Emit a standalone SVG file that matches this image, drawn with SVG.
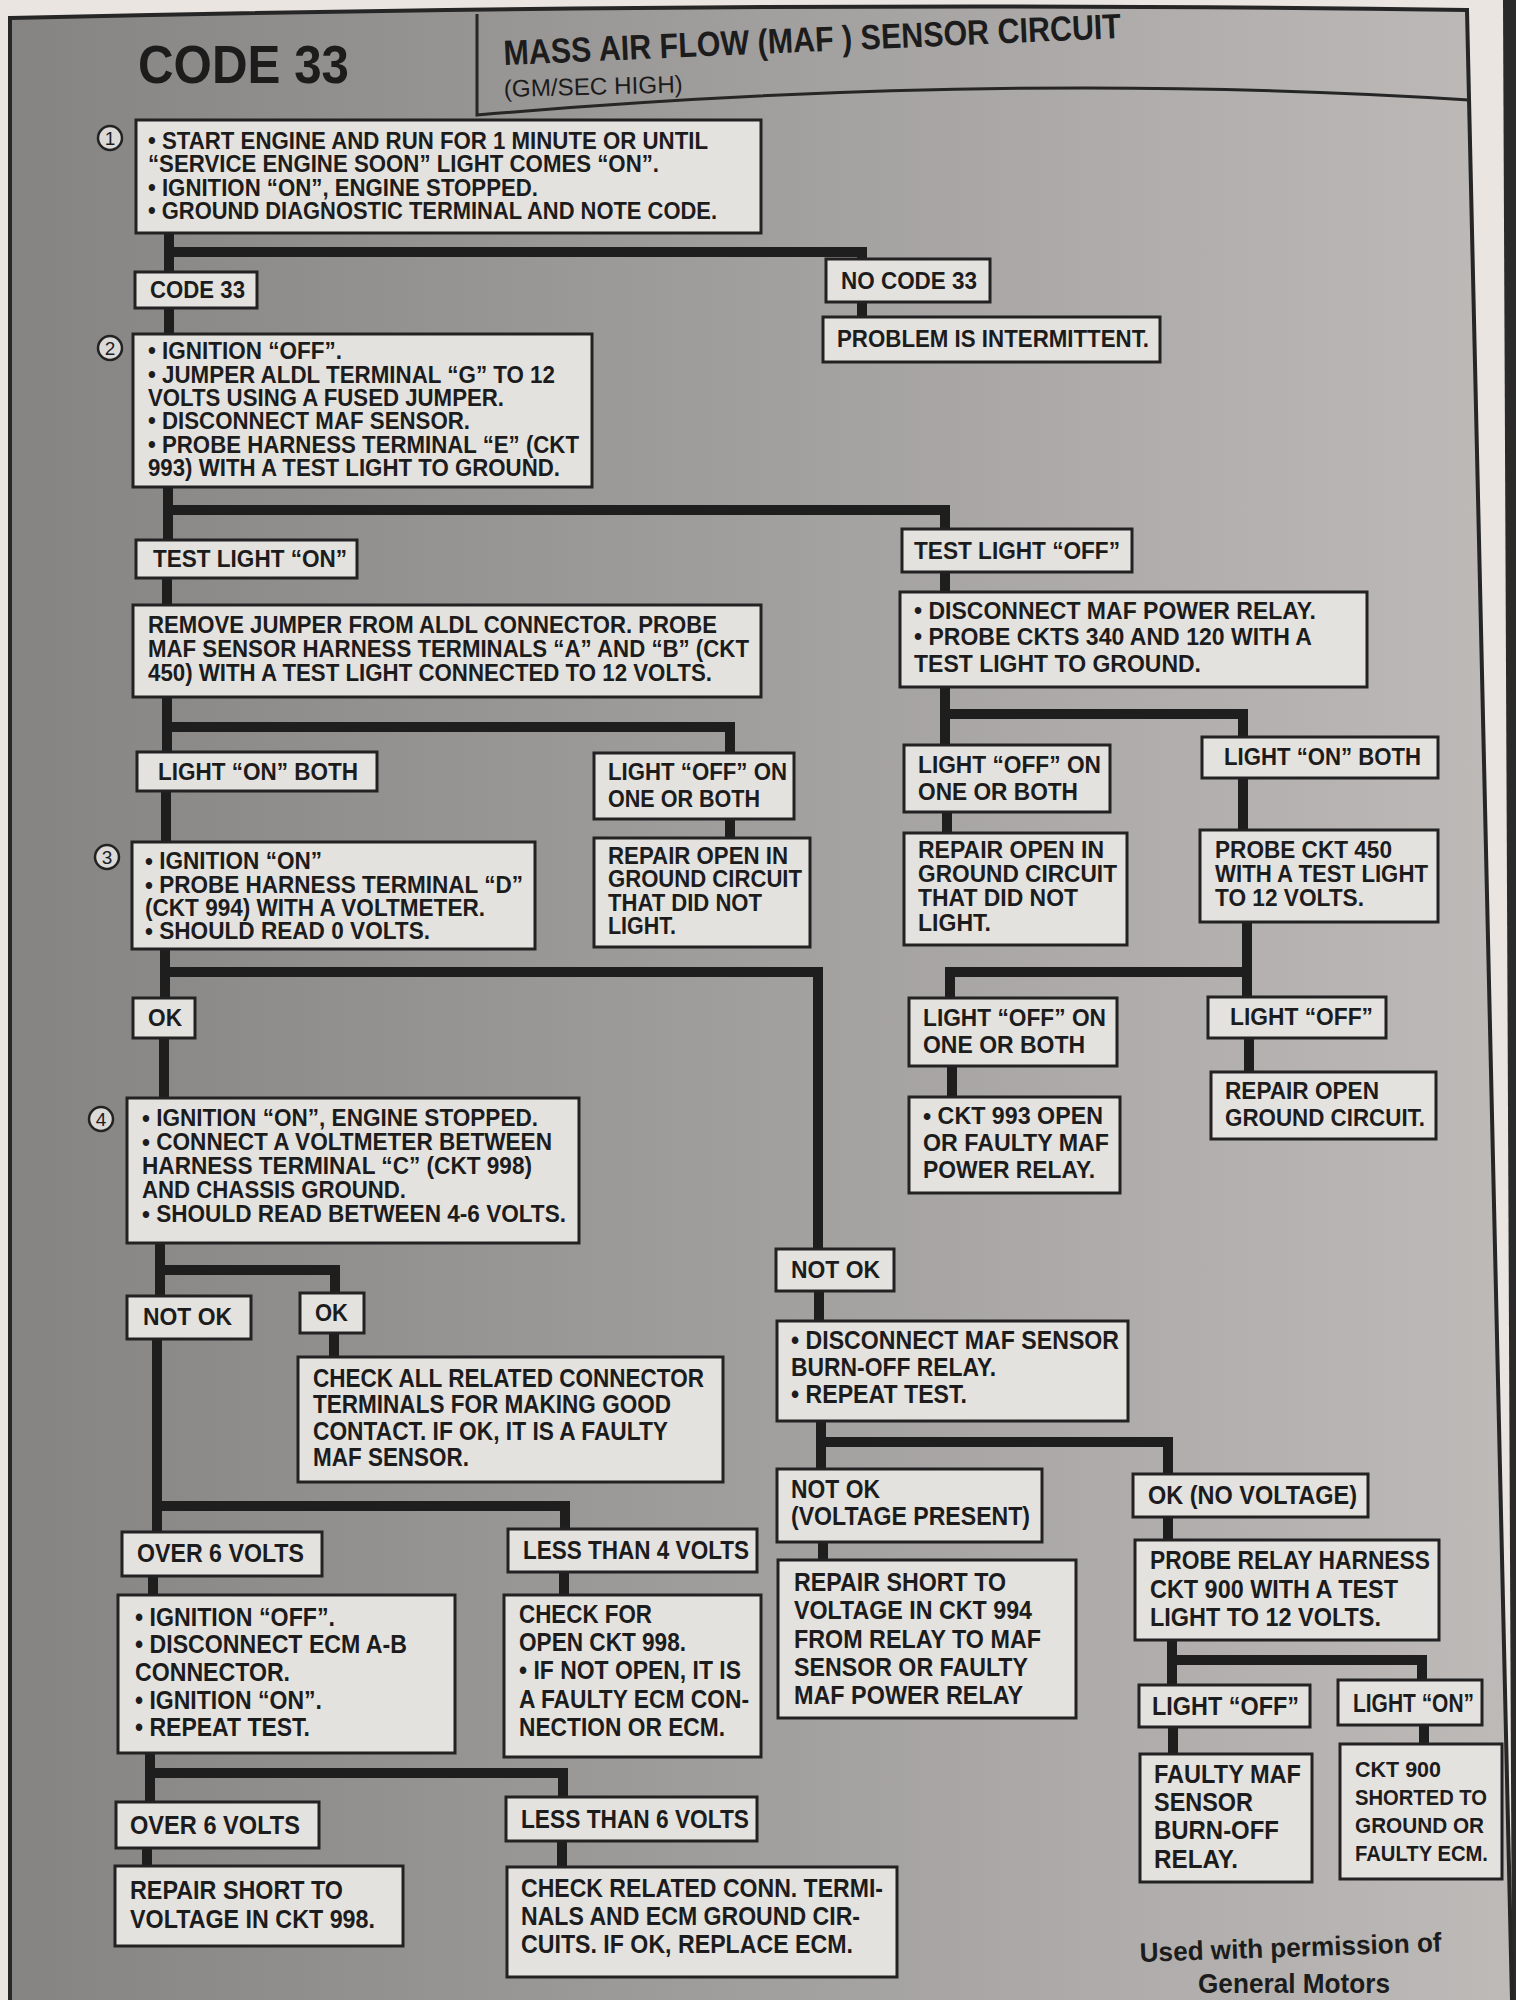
<svg xmlns="http://www.w3.org/2000/svg" width="1516" height="2000" viewBox="0 0 1516 2000">
<defs>
<linearGradient id="bg" x1="0" y1="0" x2="1" y2="0">
<stop offset="0" stop-color="#868483"/>
<stop offset="0.55" stop-color="#a4a2a1"/>
<stop offset="1" stop-color="#bdbab8"/>
</linearGradient>
<style>
.box{fill:#e4e2df;stroke:#222;stroke-width:3}
.t{font-family:"Liberation Sans",Arial,sans-serif;font-weight:bold;fill:#1c1c1c}
.c{fill:none;stroke:#1e1e1e;stroke-width:10;stroke-linejoin:miter;stroke-linecap:butt}
.num{fill:#dcdad8;stroke:#222;stroke-width:2.5}
.nt{font-family:"Liberation Sans",Arial,sans-serif;font-size:19px;fill:#1c1c1c;text-anchor:middle}
.frame{fill:none;stroke:#262626;stroke-width:4}
</style>
</defs>
<rect x="0" y="0" width="1516" height="2000" fill="#ebe5e2"/>
<polygon points="1503,0 1516,0 1516,2000 1512,2000" fill="#2a2a2a"/>
<path d="M10,18 Q800,0 1467,10 L1512,2000 L10,2000 Z" fill="url(#bg)"/>
<path class="frame" d="M10,2000 V18 Q800,0 1467,10 L1512,2000"/>

<g id="header">
<text class="t" x="138" y="83" font-size="54" textLength="211" lengthAdjust="spacingAndGlyphs">CODE 33</text>
<path d="M477,14 V115 Q1000,70 1469,100" fill="none" stroke="#262626" stroke-width="3"/>
<text class="t" x="504" y="65" font-size="35" textLength="618" lengthAdjust="spacingAndGlyphs" transform="rotate(-2.5 504 65)">MASS AIR FLOW (MAF ) SENSOR CIRCUIT</text>
<text x="504" y="97" font-size="24" font-family="Liberation Sans,Arial,sans-serif" fill="#1c1c1c" textLength="179" lengthAdjust="spacingAndGlyphs" transform="rotate(-1.5 504 97)">(GM/SEC HIGH)</text>
</g>

<g id="connectors">
<path class="c" d="M169,233 V272 M169,252 H862 V259"/>
<path class="c" d="M862,302 V318"/>
<path class="c" d="M169,308 V334"/>
<path class="c" d="M168,487 V540 M168,510 H945 V530"/>
<path class="c" d="M167,578 V605"/>
<path class="c" d="M945,572 V592"/>
<path class="c" d="M167,697 V752 M167,727 H730 V753"/>
<path class="c" d="M945,687 V745 M945,714 H1243 V737"/>
<path class="c" d="M730,819 V838"/>
<path class="c" d="M166,791 V842"/>
<path class="c" d="M947,812 V833"/>
<path class="c" d="M1243,778 V830"/>
<path class="c" d="M1247,922 V997 M1247,972 H950 V998"/>
<path class="c" d="M1249,1038 V1072"/>
<path class="c" d="M952,1066 V1097"/>
<path class="c" d="M165,949 V998 M165,972 H818 V1249"/>
<path class="c" d="M164,1038 V1098"/>
<path class="c" d="M160,1243 V1296 M160,1270 H335 V1293"/>
<path class="c" d="M334,1333 V1357"/>
<path class="c" d="M157,1339 V1532 M157,1506 H565 V1529"/>
<path class="c" d="M153,1576 V1595"/>
<path class="c" d="M564,1572 V1595"/>
<path class="c" d="M150,1753 V1802 M150,1773 H563 V1797"/>
<path class="c" d="M147,1848 V1866"/>
<path class="c" d="M562,1841 V1867"/>
<path class="c" d="M819,1291 V1321"/>
<path class="c" d="M821,1421 V1469 M821,1442 H1168 V1474"/>
<path class="c" d="M823,1542 V1560"/>
<path class="c" d="M1168,1517 V1540"/>
<path class="c" d="M1172,1640 V1685 M1172,1660 H1422 V1680"/>
<path class="c" d="M1173,1727 V1754"/>
<path class="c" d="M1424,1725 V1744"/>
</g>

<g id="n1">
<circle class="num" cx="110" cy="138" r="12"/><text class="nt" x="110" y="145">1</text>
<rect class="box" x="136" y="120" width="625" height="113"/>
<g class="t" font-size="23">
<text x="148" y="149" textLength="560" lengthAdjust="spacingAndGlyphs">• START ENGINE AND RUN FOR 1 MINUTE OR UNTIL</text>
<text x="148" y="172" textLength="511" lengthAdjust="spacingAndGlyphs">“SERVICE ENGINE SOON” LIGHT COMES “ON”.</text>
<text x="148" y="196" textLength="390" lengthAdjust="spacingAndGlyphs">• IGNITION “ON”, ENGINE STOPPED.</text>
<text x="148" y="219" textLength="569" lengthAdjust="spacingAndGlyphs">• GROUND DIAGNOSTIC TERMINAL AND NOTE CODE.</text>
</g>
</g>

<g id="n-code33">
<rect class="box" x="135" y="272" width="122" height="36"/>
<text class="t" font-size="23" x="150" y="298" textLength="95" lengthAdjust="spacingAndGlyphs">CODE 33</text>
</g>
<g id="n-nocode33">
<rect class="box" x="826" y="259" width="164" height="43"/>
<text class="t" font-size="23" x="841" y="289" textLength="136" lengthAdjust="spacingAndGlyphs">NO CODE 33</text>
</g>
<g id="n-intermittent">
<rect class="box" x="823" y="317" width="337" height="45"/>
<text class="t" font-size="23" x="837" y="347" textLength="312" lengthAdjust="spacingAndGlyphs">PROBLEM IS INTERMITTENT.</text>
</g>

<g id="n2">
<circle class="num" cx="110" cy="348" r="12"/><text class="nt" x="110" y="355">2</text>
<rect class="box" x="133" y="334" width="459" height="153"/>
<g class="t" font-size="23">
<text x="148" y="359" textLength="194" lengthAdjust="spacingAndGlyphs">• IGNITION “OFF”.</text>
<text x="148" y="383" textLength="407" lengthAdjust="spacingAndGlyphs">• JUMPER ALDL TERMINAL “G” TO 12</text>
<text x="148" y="406" textLength="356" lengthAdjust="spacingAndGlyphs">VOLTS USING A FUSED JUMPER.</text>
<text x="148" y="429" textLength="322" lengthAdjust="spacingAndGlyphs">• DISCONNECT MAF SENSOR.</text>
<text x="148" y="453" textLength="431" lengthAdjust="spacingAndGlyphs">• PROBE HARNESS TERMINAL “E” (CKT</text>
<text x="148" y="476" textLength="412" lengthAdjust="spacingAndGlyphs">993) WITH A TEST LIGHT TO GROUND.</text>
</g>
</g>

<g id="n-testlight-on">
<rect class="box" x="136" y="540" width="221" height="38"/>
<text class="t" font-size="23" x="153" y="567" textLength="194" lengthAdjust="spacingAndGlyphs">TEST LIGHT “ON”</text>
</g>
<g id="n-testlight-off">
<rect class="box" x="902" y="529" width="230" height="43"/>
<text class="t" font-size="23" x="914" y="559" textLength="206" lengthAdjust="spacingAndGlyphs">TEST LIGHT “OFF”</text>
</g>

<g id="n-remove-jumper">
<rect class="box" x="133" y="605" width="628" height="92"/>
<g class="t" font-size="23">
<text x="148" y="633" textLength="569" lengthAdjust="spacingAndGlyphs">REMOVE JUMPER FROM ALDL CONNECTOR. PROBE</text>
<text x="148" y="657" textLength="601" lengthAdjust="spacingAndGlyphs">MAF SENSOR HARNESS TERMINALS “A” AND “B” (CKT</text>
<text x="148" y="681" textLength="564" lengthAdjust="spacingAndGlyphs">450) WITH A TEST LIGHT CONNECTED TO 12 VOLTS.</text>
</g>
</g>

<g id="n-disconnect-relay">
<rect class="box" x="900" y="592" width="467" height="95"/>
<g class="t" font-size="23">
<text x="914" y="619" textLength="402" lengthAdjust="spacingAndGlyphs">• DISCONNECT MAF POWER RELAY.</text>
<text x="914" y="645" textLength="398" lengthAdjust="spacingAndGlyphs">• PROBE CKTS 340 AND 120 WITH A</text>
<text x="914" y="672" textLength="287" lengthAdjust="spacingAndGlyphs">TEST LIGHT TO GROUND.</text>
</g>
</g>

<g id="n-light-on-both-l">
<rect class="box" x="137" y="752" width="240" height="39"/>
<text class="t" font-size="23" x="158" y="780" textLength="200" lengthAdjust="spacingAndGlyphs">LIGHT “ON” BOTH</text>
</g>
<g id="n-light-off-l">
<rect class="box" x="594" y="753" width="200" height="66"/>
<g class="t" font-size="23">
<text x="608" y="780" textLength="179" lengthAdjust="spacingAndGlyphs">LIGHT “OFF” ON</text>
<text x="608" y="807" textLength="152" lengthAdjust="spacingAndGlyphs">ONE OR BOTH</text>
</g>
</g>
<g id="n-light-off-r">
<rect class="box" x="904" y="745" width="206" height="67"/>
<g class="t" font-size="23">
<text x="918" y="773" textLength="183" lengthAdjust="spacingAndGlyphs">LIGHT “OFF” ON</text>
<text x="918" y="800" textLength="160" lengthAdjust="spacingAndGlyphs">ONE OR BOTH</text>
</g>
</g>
<g id="n-light-on-both-r">
<rect class="box" x="1202" y="737" width="236" height="41"/>
<text class="t" font-size="23" x="1224" y="765" textLength="197" lengthAdjust="spacingAndGlyphs">LIGHT “ON” BOTH</text>
</g>

<g id="n3">
<circle class="num" cx="107" cy="857" r="12"/><text class="nt" x="107" y="864">3</text>
<rect class="box" x="132" y="842" width="403" height="107"/>
<g class="t" font-size="24">
<text x="145" y="869" textLength="177" lengthAdjust="spacingAndGlyphs">• IGNITION “ON”</text>
<text x="145" y="893" textLength="378" lengthAdjust="spacingAndGlyphs">• PROBE HARNESS TERMINAL “D”</text>
<text x="145" y="916" textLength="340" lengthAdjust="spacingAndGlyphs">(CKT 994) WITH A VOLTMETER.</text>
<text x="145" y="939" textLength="285" lengthAdjust="spacingAndGlyphs">• SHOULD READ 0 VOLTS.</text>
</g>
</g>

<g id="n-repair-open-l">
<rect class="box" x="594" y="838" width="216" height="109"/>
<g class="t" font-size="24">
<text x="608" y="864" textLength="180" lengthAdjust="spacingAndGlyphs">REPAIR OPEN IN</text>
<text x="608" y="887" textLength="194" lengthAdjust="spacingAndGlyphs">GROUND CIRCUIT</text>
<text x="608" y="911" textLength="154" lengthAdjust="spacingAndGlyphs">THAT DID NOT</text>
<text x="608" y="934" textLength="68" lengthAdjust="spacingAndGlyphs">LIGHT.</text>
</g>
</g>
<g id="n-repair-open-r">
<rect class="box" x="904" y="833" width="223" height="112"/>
<g class="t" font-size="24">
<text x="918" y="858" textLength="186" lengthAdjust="spacingAndGlyphs">REPAIR OPEN IN</text>
<text x="918" y="882" textLength="199" lengthAdjust="spacingAndGlyphs">GROUND CIRCUIT</text>
<text x="918" y="906" textLength="160" lengthAdjust="spacingAndGlyphs">THAT DID NOT</text>
<text x="918" y="931" textLength="73" lengthAdjust="spacingAndGlyphs">LIGHT.</text>
</g>
</g>
<g id="n-probe-450">
<rect class="box" x="1200" y="830" width="238" height="92"/>
<g class="t" font-size="24">
<text x="1215" y="858" textLength="177" lengthAdjust="spacingAndGlyphs">PROBE CKT 450</text>
<text x="1215" y="882" textLength="213" lengthAdjust="spacingAndGlyphs">WITH A TEST LIGHT</text>
<text x="1215" y="906" textLength="149" lengthAdjust="spacingAndGlyphs">TO 12 VOLTS.</text>
</g>
</g>

<g id="n-ok1">
<rect class="box" x="133" y="998" width="62" height="40"/>
<text class="t" font-size="24" x="148" y="1026" textLength="34" lengthAdjust="spacingAndGlyphs">OK</text>
</g>
<g id="n-light-off-low">
<rect class="box" x="909" y="998" width="208" height="68"/>
<g class="t" font-size="24">
<text x="923" y="1026" textLength="183" lengthAdjust="spacingAndGlyphs">LIGHT “OFF” ON</text>
<text x="923" y="1053" textLength="162" lengthAdjust="spacingAndGlyphs">ONE OR BOTH</text>
</g>
</g>
<g id="n-light-off-only">
<rect class="box" x="1208" y="997" width="178" height="41"/>
<text class="t" font-size="24" x="1230" y="1025" textLength="143" lengthAdjust="spacingAndGlyphs">LIGHT “OFF”</text>
</g>
<g id="n-repair-open-gc">
<rect class="box" x="1211" y="1072" width="225" height="67"/>
<g class="t" font-size="24">
<text x="1225" y="1099" textLength="154" lengthAdjust="spacingAndGlyphs">REPAIR OPEN</text>
<text x="1225" y="1126" textLength="200" lengthAdjust="spacingAndGlyphs">GROUND CIRCUIT.</text>
</g>
</g>
<g id="n-ckt993">
<rect class="box" x="909" y="1097" width="211" height="96"/>
<g class="t" font-size="24">
<text x="923" y="1124" textLength="180" lengthAdjust="spacingAndGlyphs">• CKT 993 OPEN</text>
<text x="923" y="1151" textLength="186" lengthAdjust="spacingAndGlyphs">OR FAULTY MAF</text>
<text x="923" y="1178" textLength="172" lengthAdjust="spacingAndGlyphs">POWER RELAY.</text>
</g>
</g>

<g id="n4">
<circle class="num" cx="101" cy="1119" r="12"/><text class="nt" x="101" y="1126">4</text>
<rect class="box" x="127" y="1098" width="452" height="145"/>
<g class="t" font-size="24">
<text x="142" y="1126" textLength="396" lengthAdjust="spacingAndGlyphs">• IGNITION “ON”, ENGINE STOPPED.</text>
<text x="142" y="1150" textLength="410" lengthAdjust="spacingAndGlyphs">• CONNECT A VOLTMETER BETWEEN</text>
<text x="142" y="1174" textLength="390" lengthAdjust="spacingAndGlyphs">HARNESS TERMINAL “C” (CKT 998)</text>
<text x="142" y="1198" textLength="264" lengthAdjust="spacingAndGlyphs">AND CHASSIS GROUND.</text>
<text x="142" y="1222" textLength="424" lengthAdjust="spacingAndGlyphs">• SHOULD READ BETWEEN 4-6 VOLTS.</text>
</g>
</g>

<g id="n-notok1">
<rect class="box" x="127" y="1296" width="124" height="43"/>
<text class="t" font-size="24" x="143" y="1325" textLength="89" lengthAdjust="spacingAndGlyphs">NOT OK</text>
</g>
<g id="n-ok2">
<rect class="box" x="300" y="1293" width="64" height="40"/>
<text class="t" font-size="24" x="315" y="1321" textLength="33" lengthAdjust="spacingAndGlyphs">OK</text>
</g>
<g id="n-notok-mid">
<rect class="box" x="776" y="1249" width="118" height="42"/>
<text class="t" font-size="24" x="791" y="1278" textLength="89" lengthAdjust="spacingAndGlyphs">NOT OK</text>
</g>

<g id="n-check-all">
<rect class="box" x="298" y="1357" width="425" height="125"/>
<g class="t" font-size="25">
<text x="313" y="1387" textLength="391" lengthAdjust="spacingAndGlyphs">CHECK ALL RELATED CONNECTOR</text>
<text x="313" y="1413" textLength="358" lengthAdjust="spacingAndGlyphs">TERMINALS FOR MAKING GOOD</text>
<text x="313" y="1440" textLength="355" lengthAdjust="spacingAndGlyphs">CONTACT. IF OK, IT IS A FAULTY</text>
<text x="313" y="1466" textLength="156" lengthAdjust="spacingAndGlyphs">MAF SENSOR.</text>
</g>
</g>
<g id="n-disconnect-burnoff">
<rect class="box" x="777" y="1321" width="351" height="100"/>
<g class="t" font-size="25">
<text x="791" y="1349" textLength="328" lengthAdjust="spacingAndGlyphs">• DISCONNECT MAF SENSOR</text>
<text x="791" y="1376" textLength="205" lengthAdjust="spacingAndGlyphs">BURN-OFF RELAY.</text>
<text x="791" y="1403" textLength="176" lengthAdjust="spacingAndGlyphs">• REPEAT TEST.</text>
</g>
</g>

<g id="n-notok-voltage">
<rect class="box" x="777" y="1469" width="265" height="73"/>
<g class="t" font-size="25">
<text x="791" y="1498" textLength="89" lengthAdjust="spacingAndGlyphs">NOT OK</text>
<text x="791" y="1525" textLength="239" lengthAdjust="spacingAndGlyphs">(VOLTAGE PRESENT)</text>
</g>
</g>
<g id="n-ok-novoltage">
<rect class="box" x="1133" y="1474" width="235" height="43"/>
<text class="t" font-size="25" x="1148" y="1504" textLength="209" lengthAdjust="spacingAndGlyphs">OK (NO VOLTAGE)</text>
</g>

<g id="n-over6-a">
<rect class="box" x="122" y="1532" width="200" height="44"/>
<text class="t" font-size="25" x="137" y="1562" textLength="167" lengthAdjust="spacingAndGlyphs">OVER 6 VOLTS</text>
</g>
<g id="n-less4">
<rect class="box" x="508" y="1529" width="249" height="43"/>
<text class="t" font-size="25" x="523" y="1559" textLength="226" lengthAdjust="spacingAndGlyphs">LESS THAN 4 VOLTS</text>
</g>

<g id="n-ignition-off">
<rect class="box" x="118" y="1595" width="337" height="158"/>
<g class="t" font-size="26">
<text x="135" y="1626" textLength="200" lengthAdjust="spacingAndGlyphs">• IGNITION “OFF”.</text>
<text x="135" y="1653" textLength="272" lengthAdjust="spacingAndGlyphs">• DISCONNECT ECM A-B</text>
<text x="135" y="1681" textLength="155" lengthAdjust="spacingAndGlyphs">CONNECTOR.</text>
<text x="135" y="1709" textLength="187" lengthAdjust="spacingAndGlyphs">• IGNITION “ON”.</text>
<text x="135" y="1736" textLength="175" lengthAdjust="spacingAndGlyphs">• REPEAT TEST.</text>
</g>
</g>
<g id="n-check-for">
<rect class="box" x="504" y="1595" width="257" height="162"/>
<g class="t" font-size="26">
<text x="519" y="1623" textLength="133" lengthAdjust="spacingAndGlyphs">CHECK FOR</text>
<text x="519" y="1651" textLength="167" lengthAdjust="spacingAndGlyphs">OPEN CKT 998.</text>
<text x="519" y="1679" textLength="222" lengthAdjust="spacingAndGlyphs">• IF NOT OPEN, IT IS</text>
<text x="519" y="1708" textLength="230" lengthAdjust="spacingAndGlyphs">A FAULTY ECM CON-</text>
<text x="519" y="1736" textLength="206" lengthAdjust="spacingAndGlyphs">NECTION OR ECM.</text>
</g>
</g>
<g id="n-repair-994">
<rect class="box" x="778" y="1560" width="298" height="158"/>
<g class="t" font-size="26">
<text x="794" y="1591" textLength="212" lengthAdjust="spacingAndGlyphs">REPAIR SHORT TO</text>
<text x="794" y="1619" textLength="238" lengthAdjust="spacingAndGlyphs">VOLTAGE IN CKT 994</text>
<text x="794" y="1648" textLength="247" lengthAdjust="spacingAndGlyphs">FROM RELAY TO MAF</text>
<text x="794" y="1676" textLength="234" lengthAdjust="spacingAndGlyphs">SENSOR OR FAULTY</text>
<text x="794" y="1704" textLength="229" lengthAdjust="spacingAndGlyphs">MAF POWER RELAY</text>
</g>
</g>
<g id="n-probe-relay">
<rect class="box" x="1135" y="1540" width="304" height="100"/>
<g class="t" font-size="26">
<text x="1150" y="1569" textLength="280" lengthAdjust="spacingAndGlyphs">PROBE RELAY HARNESS</text>
<text x="1150" y="1598" textLength="248" lengthAdjust="spacingAndGlyphs">CKT 900 WITH A TEST</text>
<text x="1150" y="1626" textLength="231" lengthAdjust="spacingAndGlyphs">LIGHT TO 12 VOLTS.</text>
</g>
</g>
<g id="n-light-off-b">
<rect class="box" x="1139" y="1685" width="171" height="42"/>
<text class="t" font-size="26" x="1152" y="1715" textLength="147" lengthAdjust="spacingAndGlyphs">LIGHT “OFF”</text>
</g>
<g id="n-light-on-b">
<rect class="box" x="1338" y="1680" width="144" height="45"/>
<text class="t" font-size="26" x="1353" y="1712" textLength="121" lengthAdjust="spacingAndGlyphs">LIGHT “ON”</text>
</g>
<g id="n-faulty-maf">
<rect class="box" x="1140" y="1754" width="172" height="128"/>
<g class="t" font-size="26">
<text x="1154" y="1783" textLength="147" lengthAdjust="spacingAndGlyphs">FAULTY MAF</text>
<text x="1154" y="1811" textLength="99" lengthAdjust="spacingAndGlyphs">SENSOR</text>
<text x="1154" y="1839" textLength="125" lengthAdjust="spacingAndGlyphs">BURN-OFF</text>
<text x="1154" y="1868" textLength="84" lengthAdjust="spacingAndGlyphs">RELAY.</text>
</g>
</g>
<g id="n-ckt900">
<rect class="box" x="1340" y="1744" width="162" height="135"/>
<g class="t" font-size="22">
<text x="1355" y="1777" textLength="86" lengthAdjust="spacingAndGlyphs">CKT 900</text>
<text x="1355" y="1805" textLength="132" lengthAdjust="spacingAndGlyphs">SHORTED TO</text>
<text x="1355" y="1833" textLength="129" lengthAdjust="spacingAndGlyphs">GROUND OR</text>
<text x="1355" y="1861" textLength="133" lengthAdjust="spacingAndGlyphs">FAULTY ECM.</text>
</g>
</g>

<g id="n-over6-b">
<rect class="box" x="116" y="1802" width="203" height="46"/>
<text class="t" font-size="26" x="130" y="1834" textLength="170" lengthAdjust="spacingAndGlyphs">OVER 6 VOLTS</text>
</g>
<g id="n-less6">
<rect class="box" x="506" y="1797" width="251" height="44"/>
<text class="t" font-size="26" x="521" y="1828" textLength="228" lengthAdjust="spacingAndGlyphs">LESS THAN 6 VOLTS</text>
</g>
<g id="n-repair-998">
<rect class="box" x="115" y="1866" width="288" height="80"/>
<g class="t" font-size="26">
<text x="130" y="1899" textLength="213" lengthAdjust="spacingAndGlyphs">REPAIR SHORT TO</text>
<text x="130" y="1928" textLength="245" lengthAdjust="spacingAndGlyphs">VOLTAGE IN CKT 998.</text>
</g>
</g>
<g id="n-check-related">
<rect class="box" x="507" y="1867" width="390" height="110"/>
<g class="t" font-size="26">
<text x="521" y="1897" textLength="362" lengthAdjust="spacingAndGlyphs">CHECK RELATED CONN. TERMI-</text>
<text x="521" y="1925" textLength="339" lengthAdjust="spacingAndGlyphs">NALS AND ECM GROUND CIR-</text>
<text x="521" y="1953" textLength="332" lengthAdjust="spacingAndGlyphs">CUITS. IF OK, REPLACE ECM.</text>
</g>
</g>

<g id="credit" class="t" font-size="27">
<text x="1140" y="1962" textLength="302" lengthAdjust="spacingAndGlyphs" transform="rotate(-2 1140 1962)">Used with permission of</text>
<text x="1198" y="1993" textLength="192" lengthAdjust="spacingAndGlyphs">General Motors</text>
</g>
</svg>
